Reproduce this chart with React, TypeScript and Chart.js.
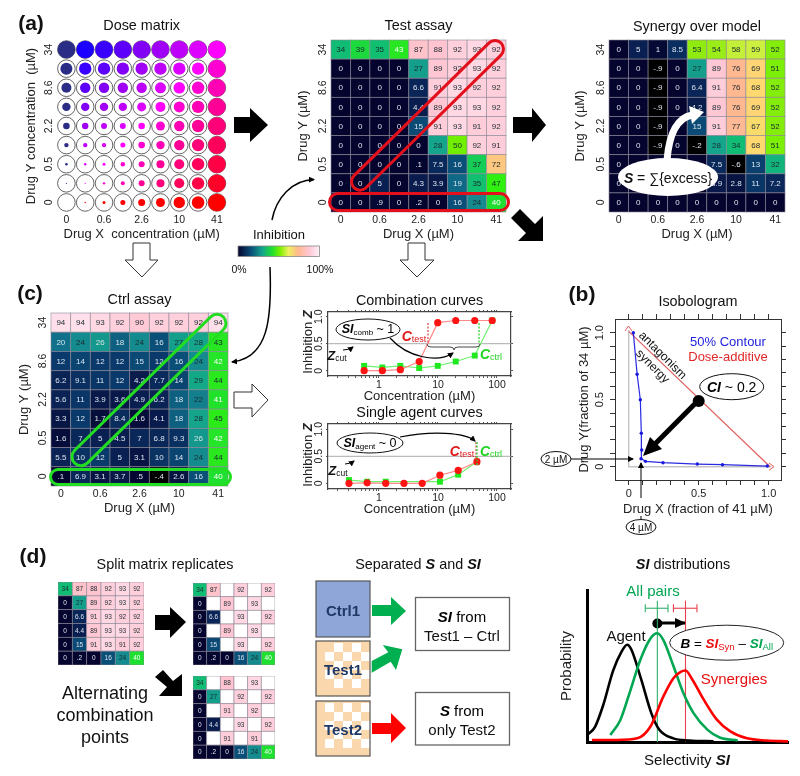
import React, { useEffect, useRef } from 'react';
import { Chart, registerables } from 'chart.js';
Chart.register(...registerables);

const FONT = '"Liberation Sans", Arial, sans-serif';

// ---------- data ----------
const doseTickLabels = ['0', '0.6', '2.6', '10', '41'];
const yDoseTickLabels = ['0', '0.5', '2.2', '8.6', '34'];
const doseTickIdx = [0, 2, 4, 6, 8];

const doseOuterRadius = 8.8;
const doseInnerRadii = [
  [8.8, 8.8, 8.8, 8.8, 8.8, 8.8, 8.8, 8.8, 8.8],
  [6, 6.2, 6.2, 6.2, 6.2, 6.2, 6.2, 6.2, 8.8],
  [5, 5.2, 5.2, 5.2, 5.2, 5.5, 5.8, 6.2, 8.8],
  [4.2, 4.2, 4.2, 4.2, 4.5, 5, 5.5, 6.2, 8.8],
  [3.3, 3.2, 3, 3, 3.3, 4.5, 5.2, 6.2, 8.8],
  [2.2, 2.2, 2.2, 2.5, 3.3, 4.2, 5.2, 6.2, 8.8],
  [1.3, 1.2, 1.5, 2.2, 3, 4, 5, 6.2, 8.8],
  [0.6, 0.6, 1.2, 2, 3, 4, 5, 6.2, 8.8],
  [0, 0.7, 1.5, 2.5, 3.5, 4.5, 5.7, 6.3, 8.8],
];
const dosePalette = ['#1c00ff', '#1c00ff', '#3a00ff', '#5c00fb', '#8200f6', '#a000f5', '#be00fa', '#dc00ff', '#ff00ff', '#ff00d2', '#ff00b4', '#ff0096', '#ff0078', '#ff005a', '#ff0046', '#ff0028', '#ff0000'];

const testAssay = [
  [34, 39, 35, 43, 87, 88, 92, 93, 92],
  [0, 0, 0, 0, 27, 89, 92, 93, 92],
  [0, 0, 0, 0, 6.6, 91, 93, 92, 92],
  [0, 0, 0, 0, 4.4, 89, 93, 93, 92],
  [0, 0, 0, 0, 15, 91, 93, 91, 92],
  [0, 0, 0, 0, 0, 28, 50, 92, 91],
  [0, 0, 0, 0, 0.1, 7.5, 16, 37, 72],
  [0, 0, 5, 0, 4.3, 3.9, 19, 35, 47],
  [0, 0, 0.9, 0, 0.2, 0, 16, 24, 40],
];
const synergy = [
  [0, 5, 1, 8.5, 53, 54, 58, 59, 52],
  [0, 0, -0.9, 0, 27, 89, 76, 69, 51],
  [0, 0, -0.9, 0, 6.4, 91, 76, 68, 52],
  [0, 0, -0.9, 0, 4.2, 89, 76, 69, 52],
  [0, 0, -0.9, 0, 15, 91, 77, 67, 52],
  [0, 0, -0.9, 0, -0.2, 28, 34, 68, 51],
  [0, 0, 0, 0, 0, 7.5, -0.6, 13, 32],
  [0, 0, 0, 0, 0, 3.9, 2.8, 11, 7.2],
  [0, 0, 0, 0, 0, 0, 0, 0, 0],
];
const ctrlAssay = [
  [94, 94, 93, 92, 90, 92, 92, 92, 94],
  [20, 24, 26, 18, 24, 16, 27, 28, 43],
  [12, 14, 12, 12, 15, 12, 16, 24, 42],
  [6.2, 9.1, 11, 12, 4.2, 7.7, 14, 29, 44],
  [5.6, 11, 3.9, 3.6, 4.9, 6.2, 18, 22, 41],
  [3.3, 12, 1.7, 8.4, 1.6, 4.1, 18, 28, 45],
  [1.6, 7, 5, 4.5, 7, 6.8, 9.3, 26, 42],
  [5.5, 10, 12, 5, 3.1, 10, 14, 24, 44],
  [0.1, 6.9, 3.1, 3.7, 0.5, -0.4, 2.6, 16, 40],
];
const splitFull = [
  [34, 87, 88, 92, 93, 92],
  [0, 27, 89, 92, 93, 92],
  [0, 6.6, 91, 93, 92, 92],
  [0, 4.4, 89, 93, 93, 92],
  [0, 15, 91, 93, 91, 92],
  [0, 0.2, 0, 16, 24, 40],
];
const splitA = [
  [34, 87, null, 92, null, 92],
  [0, null, 89, null, 93, null],
  [0, 6.6, null, 93, null, 92],
  [0, null, 89, null, 93, null],
  [0, 15, null, 93, null, 92],
  [0, 0.2, 0, 16, 24, 40],
];
const splitB = [
  [34, null, 88, null, 93, null],
  [0, 27, null, 92, null, 92],
  [0, null, 91, null, 92, null],
  [0, 4.4, null, 93, null, 92],
  [0, null, 91, null, 91, null],
  [0, 0.2, 0, 16, 24, 40],
];

const combConc = [0.56, 1.14, 2.3, 4.8, 9.9, 20, 42, 83];
const combTest = [0, 0, 0.02, 0.17, 0.89, 0.93, 0.93, 0.93];
const combCtrl = [0.09, 0.06, 0.09, 0.05, 0.09, 0.17, 0.28, 0.93];
const singleConcTest = [0.31, 0.63, 1.3, 2.65, 5.4, 10.8, 22, 45.7];
const singleTest = [0, 0.01, 0, 0, 0, 0.15, 0.24, 0.4];
const singleConcCtrl = [0.31, 0.63, 1.3, 10.8, 22, 45.7];
const singleCtrl = [0.06, 0.03, 0.03, 0.03, 0.16, 0.4];
const zCut = [0.5, 0.5];
const zCutX = [0.1367, 172];
const logTicks = [0.2, 0.3, 0.4, 0.5, 0.6, 0.7, 0.8, 0.9, 1, 2, 3, 4, 5, 6, 7, 8, 9, 10, 20, 30, 40, 50, 60, 70, 80, 90, 100];
const inhibitionTicks = [0, 0.5, 1];
const inhibitionLabels = ['0', '0.5', '1.0'];

const contourX = [0.033, 0.06, 0.083, 0.09, 0.093, 0.088, 0.12, 0.245, 0.49, 0.67, 0.99];
const contourY = [1, 0.69, 0.5, 0.25, 0.125, 0.06, 0.04, 0.03, 0.02, 0.015, 0.005];
const additiveX = [0, 1.01];
const additiveY = [1.01, 0];
const isoTicks = [0, 0.1, 0.2, 0.3, 0.4, 0.5, 0.6, 0.7, 0.8, 0.9, 1];
const isoLabels = ['0', '', '', '', '', '0.5', '', '', '', '', '1.0'];
const frameX = [0, 0, 1.02];
const frameY = [1.02, 0, 0];
const ciPoint = [0.5, 0.49];

const agentX = [0.5, 4, 8, 13, 17, 20, 22, 27, 32, 36, 43, 51, 63];
const agentY = [5, 10, 24, 47, 59, 64, 61, 41, 19, 8, 2.4, 1, 0.4];
const allX = [11.6, 16.6, 21.6, 26.5, 31.5, 35, 38, 43, 48, 53, 60, 66, 75];
const allY = [4.6, 14.5, 34, 54, 68, 71.5, 67, 50, 32, 19, 8, 3, 1];
const synX = [2.5, 15, 25, 31.5, 38, 43, 46.4, 49, 52, 58, 64.7, 71.3, 79.6, 89.6, 100];
const synY = [1.3, 1.3, 2.4, 10, 30, 42, 46, 47, 42, 28, 14.5, 7, 2.4, 1, 0.4];
const allMean = 35;
const synMean = 49;
const allSpread = [29, 40.3];
const synSpread = [43, 54.7];

// colour map: inhibition value -> colour
const cmapStops: [number, number[]][] = [
  [-0.1, [0, 0, 0]], [0, [4, 4, 46]], [5, [10, 32, 82]], [12, [10, 58, 107]], [16, [10, 79, 120]], [20, [17, 112, 138]],
  [24, [20, 139, 142]], [28, [20, 165, 140]], [35, [16, 192, 112]], [40, [31, 224, 48]], [47, [48, 240, 16]],
  [50, [112, 240, 0]], [53, [144, 236, 16]], [59, [205, 240, 64]], [68, [255, 216, 112]], [72, [255, 200, 128]],
  [76, [255, 184, 144]], [88, [255, 196, 208]], [92, [255, 208, 220]], [94, [255, 224, 234]], [100, [255, 240, 246]],
];
function cmap(v: number): string {
  if (v <= cmapStops[0][0]) return 'rgb(0,0,0)';
  for (let i = 1; i < cmapStops.length; i++) {
    if (v <= cmapStops[i][0]) {
      const [a, ca] = cmapStops[i - 1];
      const [b, cb] = cmapStops[i];
      const t = (v - a) / (b - a);
      return `rgb(${ca.map((c, k) => Math.round(c + (cb[k] - c) * t)).join(',')})`;
    }
  }
  return 'rgb(255,240,246)';
}
function labelColor(v: number, light: number[]): string {
  if (light.includes(v)) return '#ffffff';
  if (v < 21) return '#dbe4ee';
  if (v === 26) return '#d6e4e4';
  return '#1a2a30';
}
const fmt = (v: number) => String(v).replace(/^(-?)0\./, '$1.');

// ---------- chart helpers ----------
const heatPlugin = {
  id: 'heat',
  afterDatasetsDraw(chart: any) {
    const ds = chart.data.datasets[0];
    const { x, y } = chart.scales;
    const { ctx } = chart;
    ctx.save();
    ds.data.forEach((d: any) => {
      const x0 = x.getPixelForValue(d.x - 0.5);
      const x1 = x.getPixelForValue(d.x + 0.5);
      const y0 = y.getPixelForValue(d.y + 0.5);
      const y1 = y.getPixelForValue(d.y - 0.5);
      ctx.fillStyle = d.v === null ? '#ffffff' : cmap(d.v);
      ctx.fillRect(x0, y0, x1 - x0, y1 - y0);
      ctx.strokeStyle = 'rgba(140,135,150,0.75)';
      ctx.lineWidth = 0.8;
      ctx.strokeRect(x0, y0, x1 - x0, y1 - y0);
      if (d.v !== null) {
        ctx.fillStyle = labelColor(d.v, ds.lightValues || []);
        ctx.font = `${ds.cellFont}px ${FONT}`;
        ctx.textAlign = 'center';
        ctx.textBaseline = 'middle';
        ctx.fillText(fmt(d.v), (x0 + x1) / 2, (y0 + y1) / 2 + 0.5);
      }
    });
    ctx.restore();
  },
};

function matrixPoints(m: (number | null)[][]) {
  const pts: any[] = [];
  m.forEach((row, i) => row.forEach((v, j) => pts.push({ x: j, y: m.length - 1 - i, v })));
  return pts;
}

const axisTitle = (text: string) => ({ display: true, text, color: '#222', padding: 0, font: { family: FONT, size: 13, lineHeight: '16px' } });
const plotTitle = (text: string, mt: number, extra = 0) => ({
  display: true, text, color: '#111', fullSize: false,
  padding: { top: 0, bottom: mt - 18 - extra }, font: { family: FONT, size: 14.4, weight: 'normal', lineHeight: '18px' },
});

function matrixScales(ml: number, mb: number, xTitle: string, yTitle: string) {
  const common = { type: 'linear', min: -0.5, max: 8.5, grid: { display: false, drawTicks: false }, border: { display: false } };
  return {
    x: {
      ...common, title: axisTitle(xTitle),
      afterBuildTicks: (s: any) => { s.ticks = doseTickIdx.map((v) => ({ value: v })); },
      afterFit: (s: any) => { s.height = mb; },
      ticks: { autoSkip: false, maxRotation: 0, padding: 2, color: '#222', font: { family: FONT, size: 10.5 }, callback: (v: number) => doseTickLabels[v / 2] },
    },
    y: {
      ...common, title: axisTitle(yTitle),
      afterBuildTicks: (s: any) => { s.ticks = doseTickIdx.map((v) => ({ value: v })); },
      afterFit: (s: any) => { s.width = ml; },
      ticks: { autoSkip: false, minRotation: 90, maxRotation: 90, crossAlign: 'center', padding: 1, color: '#222', font: { family: FONT, size: 10.5 }, callback: (v: number) => yDoseTickLabels[v / 2] },
    },
  };
}

function ChartBox({ left, top, width, height, make }: { left: number; top: number; width: number; height: number; make: () => any }) {
  const ref = useRef<HTMLCanvasElement>(null);
  useEffect(() => {
    const chart = new Chart(ref.current as HTMLCanvasElement, make());
    return () => chart.destroy();
  }, []);
  return <canvas ref={ref} width={width} height={height} style={{ position: 'absolute', left, top, width, height }} />;
}

const baseOptions = { responsive: false, animation: false, events: [] as string[] };
const noLegend = { legend: { display: false }, tooltip: { enabled: false } };

function HeatPanel(p: { x: number; y: number; w: number; h: number; ml: number; mt: number; mb: number; title: string; xTitle: string; yTitle: string; m: number[][]; light?: number[] }) {
  return (
    <ChartBox left={p.x - p.ml} top={p.y - p.mt} width={p.w + p.ml + 6} height={p.h + p.mt + p.mb}
      make={() => ({
        type: 'scatter',
        data: { datasets: [{ data: matrixPoints(p.m), pointRadius: 0, cellFont: 8, lightValues: p.light || [] }] },
        options: {
          ...baseOptions,
          layout: { padding: { right: 6 } },
          plugins: { ...noLegend, title: plotTitle(p.title, p.mt) },
          scales: matrixScales(p.ml, p.mb, p.xTitle, p.yTitle),
        },
        plugins: [heatPlugin],
      })} />
  );
}

function MiniHeat({ x, y, w, h, m }: { x: number; y: number; w: number; h: number; m: (number | null)[][] }) {
  return (
    <ChartBox left={x} top={y} width={w} height={h}
      make={() => ({
        type: 'scatter',
        data: { datasets: [{ data: matrixPoints(m), pointRadius: 0, cellFont: 6.5, lightValues: [40] }] },
        options: {
          ...baseOptions,
          plugins: noLegend,
          scales: {
            x: { type: 'linear', display: false, min: -0.5, max: 5.5 },
            y: { type: 'linear', display: false, min: -0.5, max: 5.5 },
          },
        },
        plugins: [heatPlugin],
      })} />
  );
}

function DosePanel() {
  const x = 57, y = 40, w = 173, h = 172, ml = 34, mt = 23, mb = 30;
  const inner: any[] = [];
  const colors: string[] = [];
  const outer: any[] = [];
  doseInnerRadii.forEach((row, i) => row.forEach((r, c) => {
    const ry = doseInnerRadii.length - 1 - i;
    outer.push({ x: c, y: ry, r: doseOuterRadius });
    inner.push({ x: c, y: ry, r });
    colors.push(c === 0 ? '#2a2c86' : ry === 0 ? '#ff0000' : dosePalette[c - ry + 8]);
  }));
  return (
    <ChartBox left={x - ml} top={y - mt} width={w + ml + 6} height={h + mt + mb}
      make={() => ({
        type: 'bubble',
        data: {
          datasets: [
            { data: inner, backgroundColor: colors, borderWidth: 0, clip: false },
            { data: outer, backgroundColor: '#ffffff', borderColor: '#555', borderWidth: 0.9, clip: false },
          ],
        },
        options: {
          ...baseOptions,
          layout: { padding: { right: 6 } },
          plugins: { ...noLegend, title: plotTitle('Dose matrix', mt) },
          scales: matrixScales(ml, mb, 'Drug X  concentration (µM)', 'Drug Y concentration  (µM)'),
        },
      })} />
  );
}

const pts = (xs: number[], ys: number[]) => xs.map((v, i) => ({ x: v, y: ys[i] }));

function CurvePanel(p: { y: number; h: number; yMin: number; yMax: number; mt: number; title: string; xa: number[]; a: number[]; xb: number[]; b: number[] }) {
  const x = 328, w = 183, ml = 30, mb = 28;
  const frameColor = '#444';
  const logCommon = {
    type: 'logarithmic', min: 0.1367, max: 172.7,
    afterBuildTicks: (s: any) => { s.ticks = logTicks.map((v) => ({ value: v })); },
    grid: { drawOnChartArea: false, tickLength: 2, color: '#555' }, border: { color: frameColor, width: 1.2 },
  };
  const linCommon = {
    type: 'linear', min: p.yMin, max: p.yMax,
    afterBuildTicks: (s: any) => { s.ticks = inhibitionTicks.map((v) => ({ value: v })); },
    grid: { drawOnChartArea: false, tickLength: 2, color: '#555' }, border: { color: frameColor, width: 1.2 },
  };
  return (
    <ChartBox left={x - ml} top={p.y - p.mt} width={w + ml + 5} height={p.h + p.mt + mb}
      make={() => ({
        type: 'scatter',
        data: {
          datasets: [
            { data: pts(p.xa, p.a), showLine: true, borderColor: '#ff8a8a', borderWidth: 1.2, backgroundColor: '#ff1414', pointRadius: 3.6, pointStyle: 'circle', pointBorderWidth: 0 },
            { data: pts(p.xb, p.b), showLine: true, borderColor: '#70f070', borderWidth: 1.2, backgroundColor: '#1fe81f', pointRadius: 4.2, pointStyle: 'rect', pointBorderWidth: 0 },
            { data: pts(zCutX, zCut), showLine: true, borderColor: '#aaa', borderWidth: 1, pointRadius: 0 },
          ],
        },
        options: {
          ...baseOptions,
          layout: { padding: { right: 3 } },
          plugins: { ...noLegend, title: plotTitle(p.title, p.mt, 2) },
          scales: {
            x: {
              ...logCommon, afterFit: (s: any) => { s.height = mb; },
              title: axisTitle('Concentration (µM)'),
              ticks: { autoSkip: false, maxRotation: 0, padding: 1, color: '#222', font: { family: FONT, size: 10.5 }, callback: (v: number) => ([1, 10, 100].includes(v) ? String(v) : '') },
            },
            x2: { ...logCommon, position: 'top', afterFit: (s: any) => { s.height = 2; }, ticks: { display: false } },
            y: {
              ...linCommon, afterFit: (s: any) => { s.width = ml; },
              ticks: { autoSkip: false, minRotation: 90, maxRotation: 90, crossAlign: 'center', padding: 0, color: '#222', font: { family: FONT, size: 10.5 }, callback: (v: number) => inhibitionLabels[inhibitionTicks.indexOf(v)] },
            },
            y2: { ...linCommon, position: 'right', afterFit: (s: any) => { s.width = 2; }, ticks: { display: false } },
          },
        },
      })} />
  );
}

function IsoPanel() {
  const x = 615, y = 319, w = 166, h = 161, ml = 39, mt = 26, mb = 37;
  const xCommon = {
    type: 'linear', min: -0.098, max: 1.088,
    afterBuildTicks: (s: any) => { s.ticks = isoTicks.map((v) => ({ value: v })); },
    grid: { drawOnChartArea: false, tickLength: 5, color: '#333' }, border: { color: '#333', width: 1 },
  };
  const yCommon = { ...xCommon, min: -0.099, max: 1.102 };
  return (
    <ChartBox left={x - ml} top={y - mt} width={w + ml + 12} height={h + mt + mb}
      make={() => ({
        type: 'scatter',
        data: {
          datasets: [
            { data: pts([ciPoint[0]], [ciPoint[1]]), backgroundColor: '#000', pointRadius: 6, pointBorderWidth: 0 },
            { data: pts(contourX, contourY), showLine: true, borderColor: '#2a2ae0', borderWidth: 1.2, backgroundColor: '#1818e0', pointRadius: 1.7, pointBorderWidth: 0 },
            { data: pts(additiveX, additiveY), showLine: true, borderColor: '#e06060', borderWidth: 1.2, pointRadius: 0 },
            { data: pts(frameX, frameY), showLine: true, borderColor: '#c4c4c4', borderWidth: 1.4, pointRadius: 0 },
          ],
        },
        options: {
          ...baseOptions,
          layout: { padding: { right: 6 } },
          plugins: { ...noLegend, title: plotTitle('Isobologram', mt, 5) },
          scales: {
            x: {
              ...xCommon, afterFit: (s: any) => { s.height = mb; },
              title: axisTitle('Drug X (fraction of 41 µM)'),
              ticks: { autoSkip: false, maxRotation: 0, padding: 2, color: '#222', font: { family: FONT, size: 11 }, callback: (v: number) => isoLabels[isoTicks.indexOf(v)] },
            },
            x2: { ...xCommon, position: 'top', afterFit: (s: any) => { s.height = 5; }, ticks: { display: false } },
            y: {
              ...yCommon, afterFit: (s: any) => { s.width = ml; },
              title: axisTitle('Drug Y(fraction of 34 µM)'),
              ticks: { autoSkip: false, minRotation: 90, maxRotation: 90, crossAlign: 'center', padding: 2, color: '#222', font: { family: FONT, size: 11 }, callback: (v: number) => isoLabels[isoTicks.indexOf(v)] },
            },
            y2: { ...yCommon, position: 'right', afterFit: (s: any) => { s.width = 6; }, ticks: { display: false } },
          },
        },
      })} />
  );
}

function DistPanel() {
  const x = 587, y = 590, w = 201, h = 152, ml = 29, mt = 6, mb = 8;
  return (
    <ChartBox left={x - ml} top={y - mt} width={w + ml + 6} height={h + mt + mb}
      make={() => ({
        type: 'scatter',
        data: {
          datasets: [
            { data: pts(synX, synY), showLine: true, borderColor: '#ff0000', borderWidth: 2.6, pointRadius: 0, cubicInterpolationMode: 'monotone', clip: false },
            { data: pts(allX, allY), showLine: true, borderColor: '#00a651', borderWidth: 2.6, pointRadius: 0, cubicInterpolationMode: 'monotone', clip: false },
            { data: pts(agentX, agentY), showLine: true, borderColor: '#000', borderWidth: 2.6, pointRadius: 0, cubicInterpolationMode: 'monotone', clip: false },
            { data: pts([allMean, allMean], [0, 93]), showLine: true, borderColor: '#2fb06a', borderWidth: 1.1, pointRadius: 0 },
            { data: pts([synMean, synMean], [0, 93]), showLine: true, borderColor: '#e8404a', borderWidth: 1.1, pointRadius: 0 },
            { data: pts(allSpread, [88, 88]), showLine: true, borderColor: '#2fb06a', borderWidth: 1.1, backgroundColor: '#2fb06a', pointStyle: 'line', pointRotation: 90, pointBorderColor: '#2fb06a', pointBorderWidth: 1.1, pointRadius: 4 },
            { data: pts(synSpread, [88, 88]), showLine: true, borderColor: '#e8404a', borderWidth: 1.1, pointStyle: 'line', pointRotation: 90, pointBorderColor: '#e8404a', pointBorderWidth: 1.1, pointRadius: 4 },
            { data: pts([allMean], [78]), backgroundColor: '#000', pointRadius: 5, pointBorderWidth: 0 },
          ],
        },
        options: {
          ...baseOptions,
          layout: { padding: { top: mt, right: 6 } },
          plugins: noLegend,
          scales: {
            x: { type: 'linear', min: 0, max: 100, grid: { display: false }, border: { color: '#000', width: 3 }, ticks: { display: false }, afterFit: (s: any) => { s.height = mb; } },
            y: {
              type: 'linear', min: 0, max: 100, grid: { display: false }, border: { color: '#000', width: 3 }, ticks: { display: false }, afterFit: (s: any) => { s.width = ml; },
              title: { display: true, text: 'Probability', color: '#222', padding: 0, font: { family: FONT, size: 15, lineHeight: '18px' } },
            },
          },
        },
      })} />
  );
}

// ---------- annotation helpers ----------
const BI = ({ children, fill }: any) => <tspan fontWeight="bold" fontStyle="italic" fill={fill}>{children}</tspan>;

function T({ x, y, size = 13, fill = '#111', anchor = 'middle', rotate, weight, children }: any) {
  return (
    <text x={x} y={y} fontSize={size} fill={fill} textAnchor={anchor} fontWeight={weight} dominantBaseline="central"
      transform={rotate !== undefined ? `rotate(${rotate} ${x} ${y})` : undefined}>{children}</text>
  );
}
function Stadium({ x1, y1, x2, y2, hw, color, sw = 3 }: any) {
  const L = Math.hypot(x2 - x1, y2 - y1);
  const a = (Math.atan2(y2 - y1, x2 - x1) * 180) / Math.PI;
  return (
    <rect x={-L / 2 - hw} y={-hw} width={L + 2 * hw} height={2 * hw} rx={hw} fill="none" stroke={color} strokeWidth={sw}
      transform={`translate(${(x1 + x2) / 2} ${(y1 + y2) / 2}) rotate(${a})`} />
  );
}
function Checker({ x, y, label, cells }: any) {
  const s = 9;
  return (
    <g>
      <rect x={x} y={y} width={54} height={55} fill="#fad7ac" />
      {cells.map((r: number[], i: number) => r.map((c: number) => <rect key={`${i}-${c}`} x={x + c * s} y={y + 2 + i * s} width={s} height={s} fill="#fff" />))}
      <rect x={x} y={y} width={54} height={55} fill="none" stroke="#555" strokeWidth={1.2} />
      <T x={x + 27} y={y + 28} size={15} weight="bold" fill="#1f3864">{label}</T>
    </g>
  );
}

function Overlay() {
  const hollow = { fill: '#fff', stroke: '#333', strokeWidth: 1 };
  return (
    <svg width={800} height={776} style={{ position: 'absolute', left: 0, top: 0, pointerEvents: 'none', fontFamily: FONT }}>
      <defs>
        <marker id="ah" markerWidth="6" markerHeight="6" refX="5" refY="3" orient="auto" markerUnits="userSpaceOnUse"><path d="M0 0L6 3L0 6Z" fill="#000" /></marker>
        <linearGradient id="cbar">
          <stop offset="0" stopColor="#04042e" /><stop offset="0.16" stopColor="#0a4f78" /><stop offset="0.3" stopColor="#14a58c" />
          <stop offset="0.42" stopColor="#1fe030" /><stop offset="0.52" stopColor="#80f000" /><stop offset="0.62" stopColor="#f0f060" />
          <stop offset="0.74" stopColor="#ffb890" /><stop offset="0.88" stopColor="#ffc8d8" /><stop offset="1" stopColor="#fff2f8" />
        </linearGradient>
      </defs>

      {/* panel letters */}
      <T x={31} y={22} size={21} weight="bold">(a)</T>
      <T x={30} y={292} size={21} weight="bold">(c)</T>
      <T x={582} y={293} size={21} weight="bold">(b)</T>
      <T x={33} y={555} size={21} weight="bold">(d)</T>

      {/* solid black arrows */}
      <polygon points="234,117 250,117 250,108 268,125 250,142 250,133 234,133" fill="#000" />
      <polygon points="513,117 532,117 532,108 546,125 532,142 532,133 513,133" fill="#000" />
      <polygon points="520,209 535,224 543,216 543,241 518,241 526,233 511,218" fill="#000" />
      <polygon points="155,615 170,615 170,607 186,622 170,638 170,630 155,630" fill="#000" />
      <polygon points="163,670 173,681 182,674 182,696 159,696 167,687 155,677" fill="#000" />

      {/* hollow arrows */}
      <polygon points="133,243 150,243 150,260 158,260 142,277 125,260 133,260" {...hollow} />
      <polygon points="408,243 425,243 425,260 434,260 417,277 400,260 408,260" {...hollow} />
      <polygon points="234,392 252,392 252,384 268,400 252,417 252,408 234,408" {...hollow} />

      {/* colour bar */}
      <T x={279} y={234} size={13}>Inhibition</T>
      <rect x={238} y={246} width={81.5} height={10.5} fill="url(#cbar)" stroke="#888" strokeWidth={0.8} />
      <T x={239} y={269} size={10.5}>0%</T>
      <T x={320} y={269} size={10.5}>100%</T>
      <path d="M272 220 C276 198 292 180 314 179.5" fill="none" stroke="#000" strokeWidth={1.5} markerEnd="url(#ah)" />
      <path d="M270 267 C272 320 268 358 232 362" fill="none" stroke="#000" strokeWidth={1.5} markerEnd="url(#ah)" />

      {/* highlight outlines */}
      <Stadium x1={360} y1={181.7} x2={495} y2={49} hw={8.5} color="#e3101c" />
      <Stadium x1={338} y1={202} x2={500} y2={202} hw={8.5} color="#e3101c" />
      <Stadium x1={81} y1={456.7} x2={217} y2={323.3} hw={9} color="#22dd22" />
      <Stadium x1={58} y1={477} x2={223} y2={477} hw={7.5} color="#22dd22" />

      {/* S callout */}
      <path d="M667 160 C669 136 676 118 692 115" fill="none" stroke="#fff" strokeWidth={7} />
      <polygon points="704,112 689,106 692,124" fill="#fff" />
      <ellipse cx={668} cy={177} rx={50} ry={19} fill="#fff" />
      <T x={668} y={178} size={14}><BI>S</BI> = ∑{'{'}excess{'}'}</T>

      {/* curve labels */}
      <text x={307} y={342} fontSize={13} fill="#222" textAnchor="middle" dominantBaseline="central" transform="rotate(-90 307 342)">Inhibition <BI>Z</BI></text>
      <text x={307} y={455} fontSize={13} fill="#222" textAnchor="middle" dominantBaseline="central" transform="rotate(-90 307 455)">Inhibition <BI>Z</BI></text>
      <line x1={428} y1={323} x2={428} y2={344} stroke="#d02020" strokeWidth={1} strokeDasharray="2 1.5" />
      <line x1={479} y1={323} x2={479} y2={344} stroke="#30d030" strokeWidth={1.3} strokeDasharray="2 1.5" />
      <path d="M427 344 Q427 347 431 347 L450 347 Q454 347 454 350 Q454 347 458 347 L476 347 Q480 347 480 344" fill="none" stroke="#444" strokeWidth={1} />
      <path d="M390 338 C408 358 438 363 453 353" fill="none" stroke="#000" strokeWidth={1.2} markerEnd="url(#ah)" />
      <ellipse cx={368} cy={329.5} rx={32} ry={10.5} fill="#fff" stroke="#111" strokeWidth={1} />
      <text x={368} y={329} fontSize={12.5} textAnchor="middle" dominantBaseline="central"><BI>SI</BI><tspan fontSize={8} dy={2.5}>comb</tspan><tspan dy={-2.5}> ~ 1</tspan></text>
      <text x={414} y={336} fontSize={14} textAnchor="middle" dominantBaseline="central" fill="#e01818"><BI>C</BI><tspan fontSize={9} dy={2.5}>test</tspan></text>
      <text x={491} y={354} fontSize={14} textAnchor="middle" dominantBaseline="central" fill="#22d422"><BI>C</BI><tspan fontSize={9} dy={2.5}>ctrl</tspan></text>
      <text x={337} y={355} fontSize={13} textAnchor="middle" dominantBaseline="central" fill="#111"><BI>Z</BI><tspan fontSize={8.5} dy={2.5}>cut</tspan></text>
      <path d="M343 350 Q349 350 353 347" fill="none" stroke="#000" strokeWidth={1} markerEnd="url(#ah)" />

      <line x1={476} y1={442} x2={476} y2={465} stroke="#d02020" strokeWidth={1} strokeDasharray="2 1.5" />
      <line x1={477} y1={442} x2={477} y2={465} stroke="#30d030" strokeWidth={1.3} strokeDasharray="2 1.5" />
      <path d="M400 437 C430 431 465 432 475 441" fill="none" stroke="#000" strokeWidth={1.2} markerEnd="url(#ah)" />
      <ellipse cx={370} cy={443} rx={33} ry={10} fill="#fff" stroke="#111" strokeWidth={1} />
      <text x={370} y={443} fontSize={12.5} textAnchor="middle" dominantBaseline="central"><BI>SI</BI><tspan fontSize={8} dy={2.5}>agent</tspan><tspan dy={-2.5}> ~ 0</tspan></text>
      <text x={462} y={451} fontSize={14} textAnchor="middle" dominantBaseline="central" fill="#e01818"><BI>C</BI><tspan fontSize={9} dy={2.5}>test</tspan></text>
      <text x={491} y={451} fontSize={14} textAnchor="middle" dominantBaseline="central" fill="#22d422"><BI>C</BI><tspan fontSize={9} dy={2.5}>ctrl</tspan></text>
      <text x={338} y={470} fontSize={13} textAnchor="middle" dominantBaseline="central" fill="#111"><BI>Z</BI><tspan fontSize={8.5} dy={2.5}>cut</tspan></text>
      <path d="M345 464 Q350 464 354 461" fill="none" stroke="#000" strokeWidth={1} markerEnd="url(#ah)" />

      {/* isobologram annotations */}
      <T x={728} y={341} size={13} fill="#2222dd">50% Contour</T>
      <T x={728} y={356} size={13} fill="#e02828">Dose-additive</T>
      <T x={663} y={355} size={12} rotate={45}>antagonism</T>
      <T x={653} y={366} size={12} rotate={45}>synergy</T>
      <polyline points="625,331 628.5,326 632,331" fill="none" stroke="#e06060" strokeWidth={1} />
      <polyline points="769,463 774,466.7 769,470.4" fill="none" stroke="#e06060" strokeWidth={1} />
      <line x1={698.7} y1={400} x2={652} y2={447} stroke="#000" strokeWidth={5} />
      <polygon points="643,456 650,437 662,449" fill="#000" />
      <ellipse cx={731.7} cy={386.7} rx={32} ry={13} fill="#fff" stroke="#111" strokeWidth={1} />
      <text x={731.7} y={386.7} fontSize={14} textAnchor="middle" dominantBaseline="central"><BI>CI</BI> ~ 0.2</text>
      <ellipse cx={556} cy={459} rx={15} ry={7.5} fill="#fff" stroke="#111" strokeWidth={1} />
      <T x={556} y={459} size={10}>2 µM</T>
      <line x1={571} y1={459} x2={633} y2={459} stroke="#000" strokeWidth={1} markerEnd="url(#ah)" />
      <ellipse cx={641} cy={527} rx={15} ry={7.5} fill="#fff" stroke="#111" strokeWidth={1} />
      <T x={641} y={527} size={10}>4 µM</T>
      <line x1={641} y1={519} x2={641} y2={516} stroke="#000" strokeWidth={1} />
      <line x1={641} y1={498} x2={641} y2={463} stroke="#000" strokeWidth={1} markerEnd="url(#ah)" />

      {/* panel d titles */}
      <T x={165} y={564} size={14.4}>Split matrix replicates</T>
      <T x={418} y={564} size={14.4}>Separated <BI>S</BI> and <BI>SI</BI></T>
      <T x={683} y={564} size={14.4}><BI>SI</BI> distributions</T>
      <T x={105} y={693} size={18}>Alternating</T>
      <T x={105} y={715} size={18}>combination</T>
      <T x={105} y={737} size={18}>points</T>

      {/* flow boxes */}
      <rect x={316} y={581} width={54} height={56} fill="#8fa6d8" stroke="#555" strokeWidth={1.2} />
      <T x={343} y={610} size={15} weight="bold" fill="#1f3864">Ctrl1</T>
      <Checker x={316} y={641} label="Test1" cells={[[2, 4], [1, 3, 5], [2, 4], [1, 3, 5], [2, 4]]} />
      <Checker x={316} y={701} label="Test2" cells={[[1, 3, 5], [2, 4], [1, 3, 5], [2, 4], [1, 3, 5]]} />
      <polygon points="372,605 391,605 391,597 406,611 391,625 391,616 372,616" fill="#00b050" />
      <polygon points="371.7,661 388.3,652.3 382.7,645 402.3,649.3 396,670 390.7,661.7 371.7,672.7" fill="#00b050" />
      <polygon points="372,723 391,723 391,713 406,728 391,743 391,734 372,734" fill="#ff0000" />
      <rect x={415.5} y={597.5} width={94} height={53} fill="#fff" stroke="#666" strokeWidth={1.3} />
      <text x={462} y={616} fontSize={15} textAnchor="middle" dominantBaseline="central"><BI>SI</BI>  from</text>
      <T x={462} y={635} size={15}>Test1 – Ctrl</T>
      <rect x={415.5} y={692.5} width={94} height={52.5} fill="#fff" stroke="#666" strokeWidth={1.3} />
      <text x={462} y={710} fontSize={15} textAnchor="middle" dominantBaseline="central"><BI>S</BI> from</text>
      <T x={462} y={729} size={15}>only Test2</T>

      {/* distribution labels */}
      <T x={653} y={590} size={15} fill="#00a651">All pairs</T>
      <T x={626} y={635} size={15}>Agent</T>
      <T x={734} y={678} size={15} fill="#e81010">Synergies</T>
      <T x={687} y={759} size={15}>Selectivity <BI>SI</BI></T>
      <line x1={660} y1={623} x2={685} y2={623} stroke="#000" strokeWidth={3} />
      <polygon points="686,623 675,618 675,628" fill="#000" />
      <ellipse cx={726.7} cy={642.7} rx={57} ry={17.5} fill="#fff" stroke="#222" strokeWidth={1} />
      <text x={726.7} y={643} fontSize={13.5} textAnchor="middle" dominantBaseline="central"><BI>B</BI> = <BI fill="#e81010">SI</BI><tspan fontSize={9.5} dy={2.5} fill="#e81010">Syn</tspan><tspan dy={-2.5}> – </tspan><BI fill="#00a651">SI</BI><tspan fontSize={9.5} dy={2.5} fill="#00a651">All</tspan></text>
    </svg>
  );
}

export default function App() {
  return (
    <div style={{ position: 'absolute', left: 0, top: 0, width: 800, height: 776, overflow: 'hidden', background: '#fff', filter: 'blur(0.35px)' }}>
      <DosePanel />
      <HeatPanel x={331} y={40} w={175} h={172} ml={36} mt={23} mb={30} title="Test assay" xTitle="Drug X (µM)" yTitle="Drug Y (µM)" m={testAssay} light={[43, 40]} />
      <HeatPanel x={609} y={40} w={176} h={172} ml={37} mt={22} mb={30} title="Synergy over model" xTitle="Drug X (µM)" yTitle="Drug Y (µM)" m={synergy} />
      <HeatPanel x={51} y={313} w={177} h={173} ml={35} mt={22} mb={30} title="Ctrl assay" xTitle="Drug X (µM)" yTitle="Drug Y (µM)" m={ctrlAssay} light={[40, 41, 42]} />
      <CurvePanel y={312} h={64} yMin={-0.098} yMax={1.087} mt={20} title="Combination curves" xa={combConc} a={combTest} xb={combConc} b={combCtrl} />
      <CurvePanel y={424} h={65} yMin={-0.105} yMax={1.098} mt={20} title="Single agent curves" xa={singleConcTest} a={singleTest} xb={singleConcCtrl} b={singleCtrl} />
      <IsoPanel />
      <MiniHeat x={58} y={582} w={86} h={83} m={splitFull} />
      <MiniHeat x={193} y={583} w={82} h={82} m={splitA} />
      <MiniHeat x={193} y={676} w={82} h={83} m={splitB} />
      <DistPanel />
      <Overlay />
    </div>
  );
}
